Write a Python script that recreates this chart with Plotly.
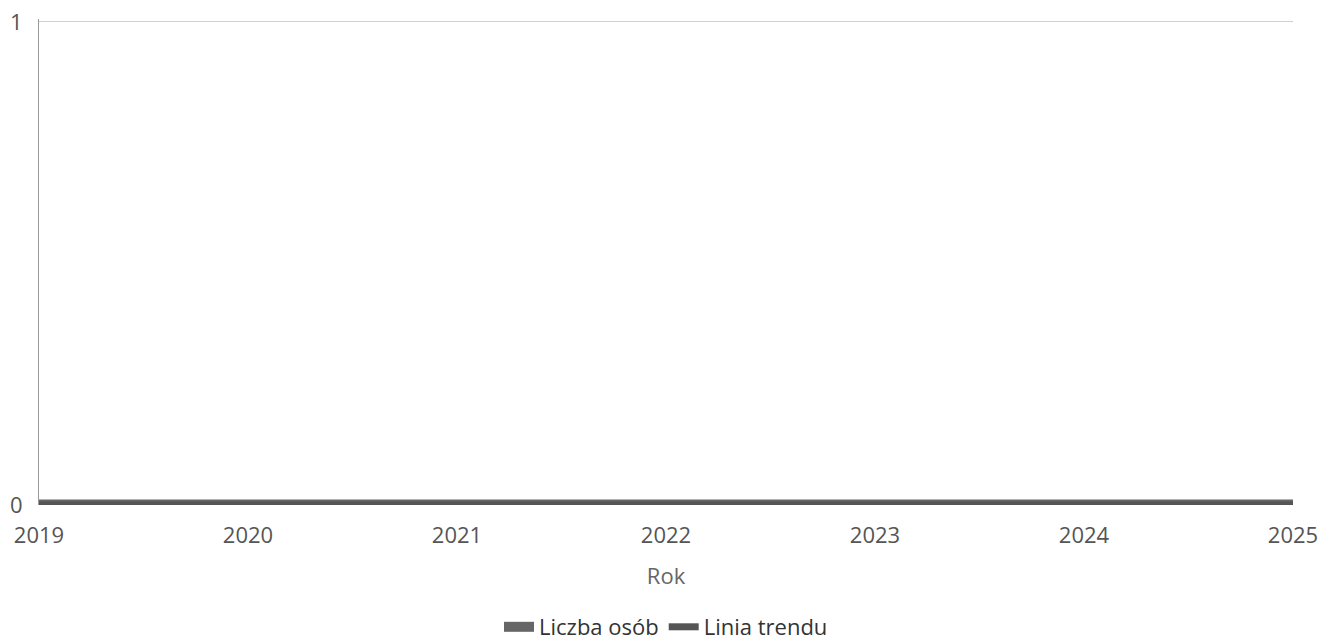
import plotly.graph_objects as go

years = [2019, 2020, 2021, 2022, 2023, 2024, 2025]
liczba_osob = [0, 0, 0, 0, 0, 0, 0]
linia_trendu = [0, 0, 0, 0, 0, 0, 0]
x_ticks = [2019, 2020, 2021, 2022, 2023, 2024, 2025]
y_ticks = [0, 1]

font_color = "#555555"
fig = go.Figure()
fig.add_trace(go.Scatter(x=years, y=liczba_osob, mode="lines", name="Liczba osób",
                         line=dict(color="#666666", width=11)))
fig.add_trace(go.Scatter(x=years, y=linia_trendu, mode="lines", name="Linia trendu",
                         line=dict(color="#555555", width=7)))

fig.update_layout(
    width=1330, height=643,
    paper_bgcolor="white", plot_bgcolor="white",
    margin=dict(l=31, r=45, t=11, b=146, autoexpand=False),
    font=dict(family="Open Sans", size=22, color=font_color),
    showlegend=True,
    legend=dict(orientation="h", x=0.5, xanchor="center", xref="paper",
                yref="container", y=1 - 619 / 643, yanchor="middle",
                font=dict(size=22, color="#333333"), itemwidth=30, tracegroupgap=0),
    xaxis=dict(range=[2019, 2025], tickvals=x_ticks, ticktext=[str(t) for t in x_ticks],
               showgrid=False, zeroline=False, showline=False, ticks="",
               automargin=False, ticklabelstandoff=15, ticklabeloverflow="allow",
               title=dict(text="Rok", font=dict(size=22, color="#666666"), standoff=20),
               tickfont=dict(size=22, color=font_color)),
    yaxis=dict(range=[0, 1.006], tickvals=y_ticks, showgrid=True, gridcolor="#d0d0d0",
               zeroline=False, showline=True, linecolor="#999999", linewidth=1,
               ticks="", ticklabelstandoff=11, automargin=False, ticklabeloverflow="allow",
               tickfont=dict(size=22, color=font_color)),
)
fig.write_html("out.html")
